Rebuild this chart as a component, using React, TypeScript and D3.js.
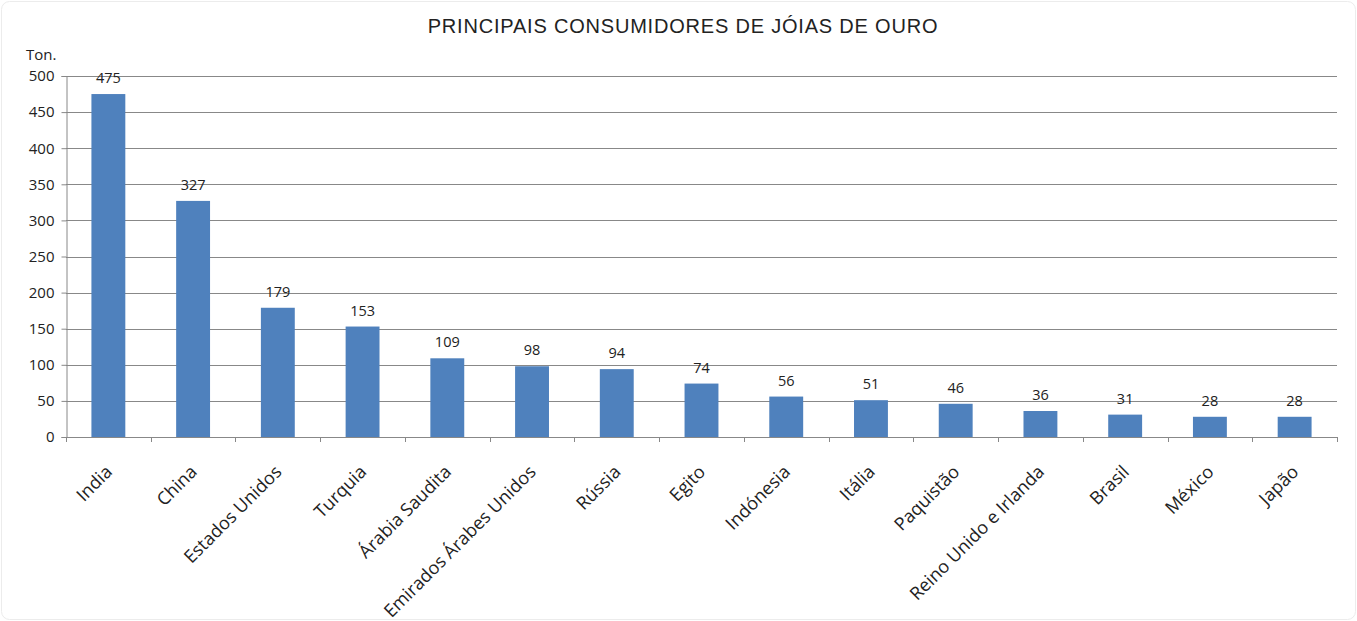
import * as d3 from 'd3';
import { useEffect, useRef } from 'react';

const width = 1357;
const height = 621;

const countries = [
  'India',
  'China',
  'Estados Unidos',
  'Turquia',
  'Árabia Saudita',
  'Emirados Árabes Unidos',
  'Rússia',
  'Egito',
  'Indónesia',
  'Itália',
  'Paquistão',
  'Reino Unido e Irlanda',
  'Brasil',
  'México',
  'Japão',
];
const tonnes = [475, 327, 179, 153, 109, 98, 94, 74, 56, 51, 46, 36, 31, 28, 28];
const yTicks = [0, 50, 100, 150, 200, 250, 300, 350, 400, 450, 500];

export default function App() {
  const svgRef = useRef<SVGSVGElement>(null);

  useEffect(() => {
    const margin = { top: 76, right: 20, bottom: 184, left: 66 };
    const svg = d3.select(svgRef.current);
    svg.selectAll('*').remove();

    const font = 'Open Sans, DejaVu Sans, sans-serif';
    const grey = '#888';

    svg
      .append('rect')
      .attr('x', 1.5)
      .attr('y', 1.5)
      .attr('width', width - 3)
      .attr('height', height - 3)
      .attr('rx', 8)
      .attr('fill', '#fff')
      .attr('stroke', '#ececec');

    const x = d3
      .scaleBand<string>()
      .domain(countries)
      .range([margin.left, width - margin.right])
      .paddingInner(0.6)
      .paddingOuter(0.3);

    const y = d3
      .scaleLinear()
      .domain([0, 500])
      .range([height - margin.bottom, margin.top]);

    // horizontal grid
    svg
      .append('g')
      .selectAll('line')
      .data(yTicks.filter((d) => d > 0))
      .join('line')
      .attr('x1', margin.left)
      .attr('x2', width - margin.right)
      .attr('y1', (d) => Math.round(y(d)) + 0.5)
      .attr('y2', (d) => Math.round(y(d)) + 0.5)
      .attr('stroke', grey);

    // bars
    svg
      .append('g')
      .selectAll('rect')
      .data(tonnes)
      .join('rect')
      .attr('x', (d, i) => x(countries[i]))
      .attr('y', (d) => y(d))
      .attr('width', x.bandwidth())
      .attr('height', (d) => y(0) - y(d))
      .attr('fill', '#4f81bd');

    // data labels
    svg
      .append('g')
      .selectAll('text')
      .data(tonnes)
      .join('text')
      .attr('x', (d, i) => x(countries[i]) + x.bandwidth() / 2)
      .attr('y', (d) => y(d) - 11)
      .attr('text-anchor', 'middle')
      .attr('font-family', font)
      .attr('font-size', 14.5)
      .attr('fill', '#222')
      .text((d) => d);

    // y axis
    const yAxis = svg
      .append('g')
      .attr('transform', `translate(${margin.left + 0.5},0)`)
      .call(d3.axisLeft(y).tickValues(yTicks).tickSize(5).tickPadding(7));
    yAxis.select('.domain').attr('stroke', grey);
    yAxis.selectAll('line').attr('stroke', grey);
    yAxis
      .selectAll('text')
      .attr('font-family', font)
      .attr('font-size', 15)
      .attr('fill', '#222');

    // x axis: tick marks sit between categories
    const x0 = margin.left;
    const x1 = width - margin.right;
    const xTicks = d3.range(countries.length + 1).map((i) => x0 + (i * (x1 - x0)) / countries.length);
    const xAxisG = svg.append('g');
    xAxisG
      .append('line')
      .attr('x1', x0)
      .attr('x2', x1)
      .attr('y1', Math.round(y(0)) + 0.5)
      .attr('y2', Math.round(y(0)) + 0.5)
      .attr('stroke', grey);
    xAxisG
      .selectAll('line.tick')
      .data(xTicks)
      .join('line')
      .attr('class', 'tick')
      .attr('x1', (d) => Math.round(d) + 0.5)
      .attr('x2', (d) => Math.round(d) + 0.5)
      .attr('y1', y(0))
      .attr('y2', y(0) + 5)
      .attr('stroke', grey);

    xAxisG
      .selectAll('text')
      .data(countries)
      .join('text')
      .attr('transform', (d) => `translate(${x(d) + x.bandwidth() / 2 + 5},${y(0) + 36}) rotate(-45)`)
      .attr('text-anchor', 'end')
      .attr('font-family', font)
      .attr('font-size', 18)
      .attr('fill', '#222')
      .text((d) => d);

    svg
      .append('text')
      .attr('x', 26)
      .attr('y', 60)
      .attr('font-family', font)
      .attr('font-size', 15)
      .attr('fill', '#222')
      .text('Ton.');

    svg
      .append('text')
      .attr('x', 683)
      .attr('y', 33)
      .attr('text-anchor', 'middle')
      .attr('font-family', 'Liberation Sans, Arial, sans-serif')
      .attr('font-size', 20)
      .attr('letter-spacing', 0.8)
      .attr('fill', '#222')
      .text('PRINCIPAIS CONSUMIDORES DE JÓIAS DE OURO');
  }, []);

  return (
    <svg
      ref={svgRef}
      width={width}
      height={height}
      style={{ position: 'absolute', left: 0, top: 0 }}
    />
  );
}
